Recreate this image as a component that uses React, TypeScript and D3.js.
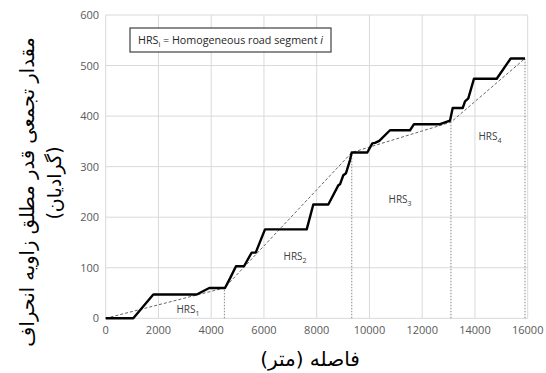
import React from "react";
import * as d3 from "d3";

const distance = [0, 1046, 1365, 1805, 3450, 3928, 4523, 4713, 4940, 5243, 5535, 5687, 6040, 7621, 7871, 8440, 8819, 8883, 9008, 9111, 9263, 9327, 9918, 10108, 10210, 10373, 10779, 11538, 11689, 12675, 13054, 13156, 13536, 13624, 13748, 13964, 14825, 15356, 15898];
const cumulative = [0, 0, 20, 47, 47, 60, 60, 79, 103, 103, 130, 130, 176, 176, 225, 225, 263, 265, 283, 287, 313, 328, 328, 346, 347, 351, 372, 372, 384, 384, 391, 416, 416, 429, 435, 474, 474, 514, 514];

const trendX = [0, 4500, 9330, 13090, 15898];
const trendY = [0, 60, 328, 388, 514];

const segLabels = ["1", "2", "3", "4"];
const segLabelX = [3120, 7180, 11160, 14570];
const segLabelY = [10, 115, 228, 352];

const xTicks = [0, 2000, 4000, 6000, 8000, 10000, 12000, 14000, 16000];
const yTicks = [0, 100, 200, 300, 400, 500, 600];

const yTitle1 = "مقدار تجمعی قدر مطلق زاویه انحراف";
const yTitle2 = "(گرادیان)";
const xTitle = "فاصله (متر)";

export default function App() {
  const W = 546, H = 373;
  const left = 105.7, right = 527.7, top = 15, bottom = 318.3;
  const x = d3.scaleLinear().domain([0, 16000]).range([left, right]);
  const y = d3.scaleLinear().domain([0, 600]).range([bottom, top]);

  const pts: [number, number][] = distance.map((d, i) => [d, cumulative[i]]);
  const line = d3.line<[number, number]>().x(d => x(d[0])).y(d => y(d[1]));
  const tpts: [number, number][] = trendX.map((d, i) => [d, trendY[i]]);

  const tickFont = "'Open Sans', 'Liberation Sans', sans-serif";
  const faFont = "'DejaVu Sans', 'Noto Sans', sans-serif";

  return (
    <svg width={W} height={H} style={{ position: "absolute", left: 0, top: 0, background: "#fff" }}>
      {xTicks.map(t => (
        <line key={"gx" + t} x1={x(t)} x2={x(t)} y1={y(0)} y2={y(600)} stroke="#d9d9d9" strokeWidth={1} />
      ))}
      {yTicks.map(t => (
        <line key={"gy" + t} x1={x(0)} x2={x(16000)} y1={y(t)} y2={y(t)} stroke="#d9d9d9" strokeWidth={1} />
      ))}
      {xTicks.map(t => (
        <text key={"tx" + t} x={x(t)} y={y(0) + 16} textAnchor="middle" fontSize={11} fontFamily={tickFont} fill="#595959">{t}</text>
      ))}
      {yTicks.map(t => (
        <text key={"ty" + t} x={99} y={y(t) + 4} textAnchor="end" fontSize={11} fontFamily={tickFont} fill="#595959">{t}</text>
      ))}
      {trendX.slice(1).map((d, i) => (
        <line key={"v" + i} x1={x(d)} x2={x(d)} y1={y(0)} y2={y(trendY[i + 1])} stroke="#888" strokeWidth={1} strokeDasharray="1.5,1.5" />
      ))}
      <path d={line(tpts) || ""} fill="none" stroke="#666" strokeWidth={1} strokeDasharray="3,2" />
      <path d={line(pts) || ""} fill="none" stroke="#000" strokeWidth={2.4} strokeLinejoin="round" />
      {segLabels.map((s, i) => (
        <text key={"hrs" + i} x={x(segLabelX[i])} y={y(segLabelY[i])} textAnchor="middle" fontSize={10} fontFamily={tickFont} fill="#404040">
          HRS<tspan fontSize={7} dy={2.5}>{s}</tspan>
        </text>
      ))}
      <rect x={130} y={28} width={201} height={24} fill="#fff" stroke="#404040" strokeWidth={1.2} />
      <text x={138} y={44} fontSize={10.5} fontFamily={tickFont} fill="#262626" textLength={185} lengthAdjust="spacingAndGlyphs">
        HRS<tspan fontSize={7} dy={2.5}>i</tspan><tspan dy={-2.5}> = Homogeneous road segment </tspan><tspan fontStyle="italic">i</tspan>
      </text>
      <text transform={`translate(34,192) rotate(-90)`} textAnchor="middle" fontSize={19.5} fontFamily={faFont} fill="#000" direction="rtl">{yTitle1}</text>
      <text transform={`translate(61,183) rotate(-90)`} textAnchor="middle" fontSize={19} fontFamily={faFont} fill="#000" direction="rtl">{yTitle2}</text>
      <text x={310} y={366} textAnchor="middle" fontSize={20} fontFamily={faFont} fill="#000" direction="rtl">{xTitle}</text>
    </svg>
  );
}
